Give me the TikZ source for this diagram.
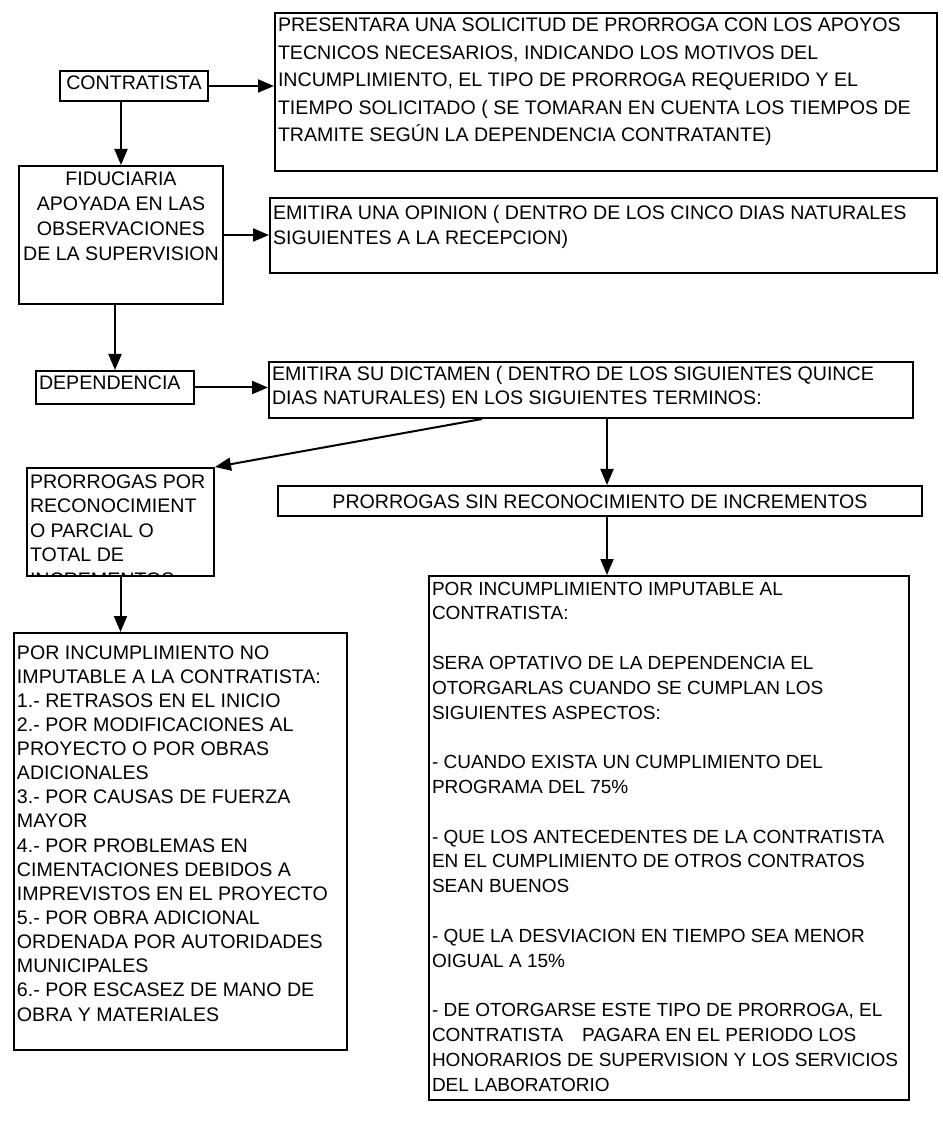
\documentclass[tikz,border=0pt]{standalone}
\usepackage{fontspec}
\setmainfont{Liberation Sans}
\usetikzlibrary{arrows.meta}
\newcommand{\bloque}[4][9.5pt]{\parbox[t][#3][t]{#2}{\raggedright\rule{0pt}{#1}#4}}
\begin{document}
\begin{tikzpicture}[x=0.5pt,y=-0.5pt,
		caja/.style={draw,line width=1pt,anchor=north west,inner xsep=1.5pt,inner ysep=0pt,font=\fontsize{9.8}{12.3}\selectfont},
		flecha/.style={line width=1pt,-{Triangle[length=8pt,width=6.5pt]}}]
	\useasboundingbox (0,0) rectangle (942,1127);
	\node[caja] (contratista) at (59,70) {\bloque{71pt}{15pt}{\centering CONTRATISTA}};
	\node[caja,font=\fontsize{9.8}{13.75}\selectfont] (presentara) at (274,12) {\bloque{328pt}{79pt}{PRESENTARA UNA SOLICITUD DE PRORROGA CON LOS APOYOS\\TECNICOS NECESARIOS, INDICANDO LOS MOTIVOS DEL\\INCUMPLIMIENTO, EL TIPO DE PRORROGA REQUERIDO Y EL\\TIEMPO SOLICITADO ( SE TOMARAN EN CUENTA LOS TIEMPOS DE\\TRAMITE SEGÚN LA DEPENDENCIA CONTRATANTE)}};
	\node[caja,font=\fontsize{9.8}{12.5}\selectfont] (fiduciaria) at (18,165) {\bloque[10pt]{99pt}{69pt}{\centering FIDUCIARIA\\APOYADA EN LAS\\OBSERVACIONES\\DE LA SUPERVISION}};
	\node[caja] (opinion) at (269,197) {\bloque[11pt]{330.5pt}{37.5pt}{EMITIRA UNA OPINION ( DENTRO DE LOS CINCO DIAS NATURALES\\SIGUIENTES A LA RECEPCION)}};
	\node[caja] (dependencia) at (35,370) {\bloque{76pt}{16.5pt}{DEPENDENCIA}};
	\node[caja,font=\fontsize{9.8}{11.8}\selectfont] (dictamen) at (268,361) {\bloque{319pt}{28pt}{EMITIRA SU DICTAMEN ( DENTRO DE LOS SIGUIENTES QUINCE\\DIAS NATURALES) EN LOS SIGUIENTES TERMINOS:}};
	\begin{scope}
		\clip (0,440) rectangle (250,576);
		\node[caja] (prorA) at (26,467) {\bloque[10pt]{90.5pt}{54pt}{PRORROGAS POR\\RECONOCIMIENT\\O PARCIAL O\\TOTAL DE\\INCREMENTOS:}};
	\end{scope}
	\node[caja] (sin) at (277,485) {\bloque[11pt]{319pt}{15pt}{\centering PRORROGAS SIN RECONOCIMIENTO DE INCREMENTOS}};
	\node[caja,font=\fontsize{9.8}{12.07}\selectfont] (noimp) at (13,632) {\bloque[13pt]{163.5pt}{208.5pt}{POR INCUMPLIMIENTO NO\\IMPUTABLE A LA CONTRATISTA:\\1.- RETRASOS EN EL INICIO\\2.- POR MODIFICACIONES AL\\PROYECTO O POR OBRAS\\ADICIONALES\\3.- POR CAUSAS DE FUERZA\\MAYOR\\4.- POR PROBLEMAS EN\\CIMENTACIONES DEBIDOS A\\IMPREVISTOS EN EL PROYECTO\\5.- POR OBRA ADICIONAL\\ORDENADA POR AUTORIDADES\\MUNICIPALES\\6.- POR ESCASEZ DE MANO DE\\OBRA Y MATERIALES}};
	\node[caja,font=\fontsize{9.5}{12.4}\selectfont] (imput) at (428,575) {\bloque{237pt}{262pt}{POR INCUMPLIMIENTO IMPUTABLE AL\\CONTRATISTA:\\[12.4pt]SERA OPTATIVO DE LA DEPENDENCIA EL\\OTORGARLAS CUANDO SE CUMPLAN LOS\\SIGUIENTES ASPECTOS:\\[12.4pt]- CUANDO EXISTA UN CUMPLIMIENTO DEL\\PROGRAMA DEL 75\%\\[12.4pt]- QUE LOS ANTECEDENTES DE LA CONTRATISTA\\EN EL CUMPLIMIENTO DE OTROS CONTRATOS\\SEAN BUENOS\\[12.4pt]- QUE LA DESVIACION EN TIEMPO SEA MENOR\\OIGUAL A 15\%\\[12.4pt]- DE OTORGARSE ESTE TIPO DE PRORROGA, EL\\CONTRATISTA\quad PAGARA EN EL PERIODO LOS\\HONORARIOS DE SUPERVISION Y LOS SERVICIOS\\DEL LABORATORIO}};
	\coordinate (ejeSin) at (607,0);
	\draw[flecha] (contratista.east) -- (contratista.east -| presentara.west);
	\draw[flecha] (contratista.south -| fiduciaria.north) -- (fiduciaria.north);
	\draw[flecha] (fiduciaria.east) -- (fiduciaria.east -| opinion.west);
	\draw[flecha] (fiduciaria.south -| dependencia.north) -- (dependencia.north);
	\draw[flecha] (dependencia.east) -- (dependencia.east -| dictamen.west);
	\draw[flecha] ([xshift=107pt]dictamen.south west) -- (prorA.north east);
	\draw[flecha] (dictamen.south -| ejeSin) -- (sin.north -| ejeSin);
	\draw[flecha] (sin.south -| ejeSin) -- (imput.north -| ejeSin);
	\draw[flecha] (prorA.south) -- (prorA.south |- noimp.north);
\end{tikzpicture}
\end{document}
